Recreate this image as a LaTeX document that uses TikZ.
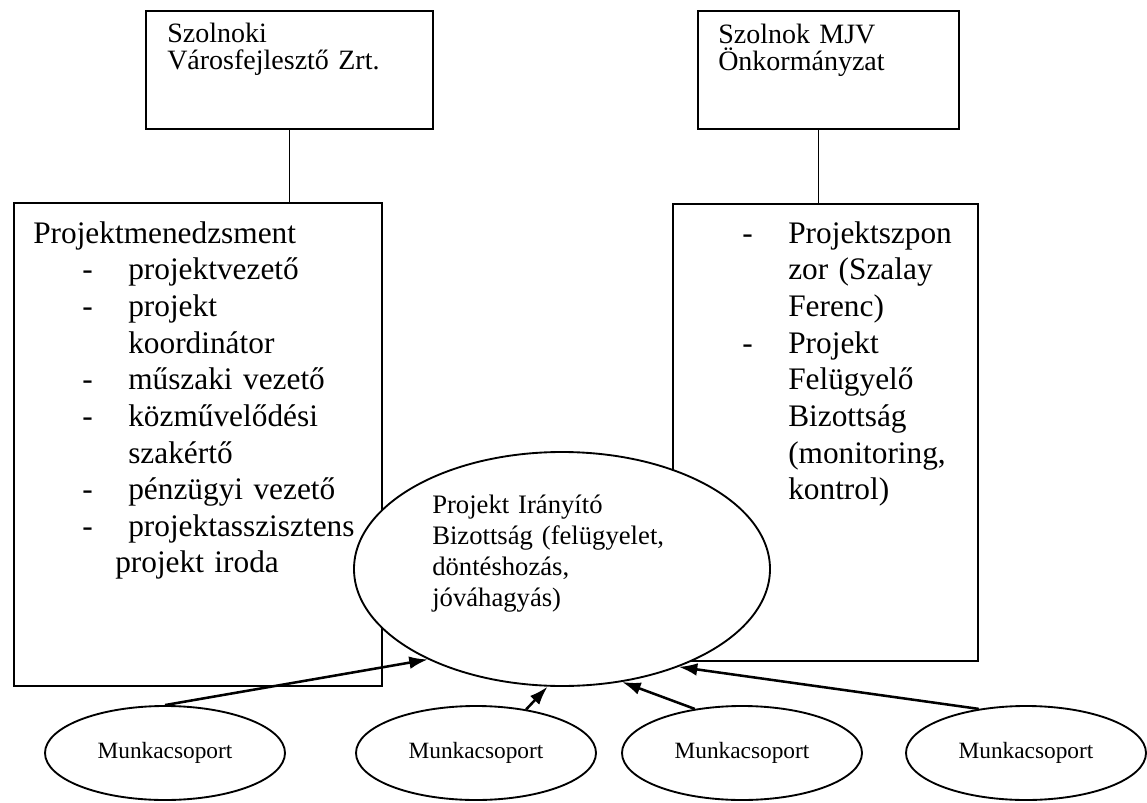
\documentclass[tikz,border=0pt]{standalone}
\usepackage{fontspec}
\setmainfont{Liberation Serif}
\usetikzlibrary{arrows.meta,shapes.geometric}
\newcommand{\pmitem}{\hspace*{36.75pt}\makebox[34.5pt][l]{-}}
\newcommand{\pmcont}{\hspace*{71.25pt}}
\newcommand{\szitem}{\makebox[34.5pt][l]{-}}
\newcommand{\szcont}{\hspace*{34.5pt}}

\begin{document}
\begin{tikzpicture}[x=0.75pt,y=-0.75pt,
  frame/.style={draw,line width=1.4pt,inner sep=0pt,anchor=north west},
  oval/.style={draw,ellipse,line width=1.4pt,fill=white,inner sep=0pt},
  wgroup/.style={oval,minimum width=180pt,minimum height=70.5pt,font=\fontsize{17.5pt}{21pt}\selectfont},
  link/.style={line width=1.4pt},
  feed/.style={line width=1.9pt,-{Latex[length=14pt,width=9.5pt]}},
  headtext/.style={anchor=base west,inner sep=0pt,text width=200pt,align=left,font=\fontsize{21pt}{20.5pt}\selectfont},
  listtext/.style={anchor=base west,inner sep=0pt,text width=255pt,align=left,font=\fontsize{23.5pt}{27.5pt}\selectfont}
]
\useasboundingbox (0,0) rectangle (1147,803);

% owners
\node[frame,minimum width=215.25pt,minimum height=88.5pt] (vfz) at (145,10) {};
\node[headtext] (vfzt) at (167,42) {Szolnoki\\Városfejlesztő Zrt.};
\node[frame,minimum width=195.75pt,minimum height=88.5pt] (onk) at (697,10) {};
\node[headtext] (onkt) at (718,43) {Szolnok MJV\\Önkormányzat};

% project organisation
\node[frame,minimum width=276pt,minimum height=362.25pt] (pm) at (13,202) {};
\node[listtext] (pmt) at (33,243) {Projektmenedzsment\\
  \pmitem projektvezető\\
  \pmitem projekt\\
  \pmcont koordinátor\\
  \pmitem műszaki vezető\\
  \pmitem közművelődési\\
  \pmcont szakértő\\
  \pmitem pénzügyi vezető\\
  \pmitem projektasszisztens\\
  \hspace*{61.5pt}projekt iroda};
\node[frame,minimum width=228.75pt,minimum height=342.75pt] (psz) at (672,203) {};
\node[listtext,text width=180pt] (pszt) at (742,243) {\szitem Projektszpon\\
  \szcont zor (Szalay\\
  \szcont Ferenc)\\
  \szitem Projekt\\
  \szcont Felügyelő\\
  \szcont Bizottság\\
  \szcont (monitoring,\\
  \szcont kontrol)};

\draw[link] (vfz.south) -- (vfz.south |- pm.north);
\draw[link] ([xshift=-7.5pt]onk.south) -- ([xshift=-7.5pt]onk.south |- psz.north);

% steering committee
\node[oval,minimum width=312pt,minimum height=175.5pt] (pib) at (562,569) {};
\node[anchor=base west,inner sep=0pt,text width=200pt,align=left,font=\fontsize{20pt}{23.25pt}\selectfont] (pibt) at (432,513) {Projekt Irányító\\Bizottság (felügyelet,\\döntéshozás,\\jóváhagyás)};

% working groups
\node[wgroup] (mc1) at (165,753) {Munkacsoport};
\node[wgroup] (mc2) at (476,753) {Munkacsoport};
\node[wgroup] (mc3) at (742,753) {Munkacsoport};
\node[wgroup] (mc4) at (1026,753) {Munkacsoport};

\draw[feed] (mc1.north) -- (pib.214);
\draw[feed] (mc2.41) -- (pib.263);
\draw[feed] (mc3.137) -- (pib.298);
\draw[feed] (mc4.137) -- (pib.320);
\end{tikzpicture}
\end{document}
